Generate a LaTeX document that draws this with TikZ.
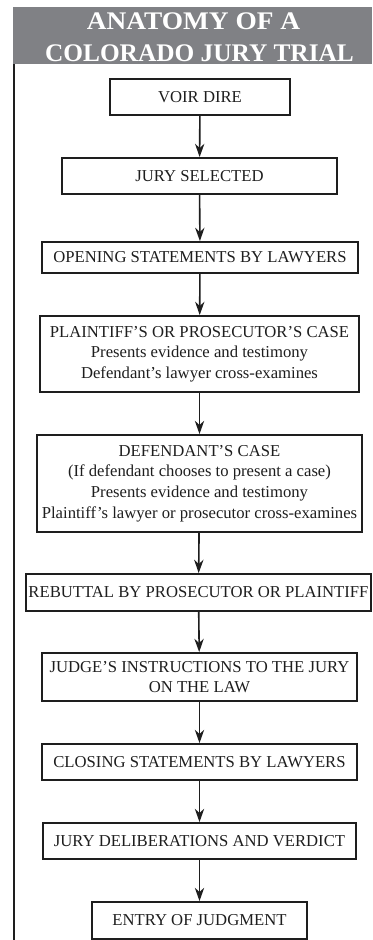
\documentclass[tikz,border=0pt]{standalone}
\usepackage{fontspec}
\setmainfont{Liberation Serif}
\usetikzlibrary{arrows.meta}
\definecolor{band}{RGB}{128,129,133}
\definecolor{ink}{RGB}{30,30,30}
\begin{document}
\begin{tikzpicture}[x=0.75pt,y=-0.75pt,
  stepbox/.style={draw=ink,line width=1.4pt,fill=white,text=ink,inner sep=0pt,align=center,
    font=\fontsize{12.5}{15.5}\selectfont},
  flow/.style={draw=ink,line width=1.2pt,-{Stealth[length=10pt,width=7pt]}},
  head/.style={text=white,font=\fontsize{19}{22}\selectfont\bfseries,anchor=base,inner sep=0pt}]
\useasboundingbox (0,0) rectangle (372,940);
\fill[white] (0,0) rectangle (372,940);
\fill[band] (13,7) rectangle (372,64);
\draw[ink,line width=1.4pt] (14,64) -- (14,940);
\node[head,xscale=1.08] (h1) at (193.5,29) {ANATOMY OF A};
\node[head] (h2) at (199.5,61) {COLORADO JURY TRIAL};

\node[stepbox,minimum width=135pt,minimum height=27pt] (voir) at (200,97) {VOIR DIRE};
\node[stepbox,minimum width=206.25pt,minimum height=27pt] (jury) at (199.5,176) {JURY SELECTED};
\node[stepbox,minimum width=237pt,minimum height=23.25pt] (open) at (200,257.5) {OPENING STATEMENTS BY LAWYERS};
\node[stepbox,minimum width=239.25pt,minimum height=57pt] (plain) at (199.5,354) {PLAINTIFF’S OR PROSECUTOR’S CASE\\Presents evidence and testimony\\Defendant’s lawyer cross-examines};
\node[stepbox,minimum width=243.75pt,minimum height=72.75pt] (def) at (199.5,483.5) {DEFENDANT’S CASE\\(If defendant chooses to present a case)\\Presents evidence and testimony\\Plaintiff’s lawyer or prosecutor cross-examines};
\node[stepbox,minimum width=258.75pt,minimum height=27.75pt] (reb) at (198.5,592.5) {REBUTTAL BY PROSECUTOR OR PLAINTIFF};
\node[stepbox,minimum width=236.25pt,minimum height=36pt] (judge) at (199.5,677) {JUDGE’S INSTRUCTIONS TO THE JURY\\ON THE LAW};
\node[stepbox,minimum width=236.25pt,minimum height=27pt] (close) at (199.5,762) {CLOSING STATEMENTS BY LAWYERS};
\node[stepbox,minimum width=234.75pt,minimum height=27pt] (delib) at (199.5,841) {JURY DELIBERATIONS AND VERDICT};
\node[stepbox,minimum width=161.25pt,minimum height=27.75pt] (entry) at (199.5,920.5) {ENTRY OF JUDGMENT};

\draw[flow] (voir) -- (jury);
\draw[flow] (jury) -- (open);
\draw[flow] (open) -- (plain);
\draw[flow] (plain) -- (def);
\draw[flow] (def) -- (reb);
\draw[flow] (reb) -- (judge);
\draw[flow] (judge) -- (close);
\draw[flow] (close) -- (delib);
\draw[flow] (delib) -- (entry);
\end{tikzpicture}
\end{document}
